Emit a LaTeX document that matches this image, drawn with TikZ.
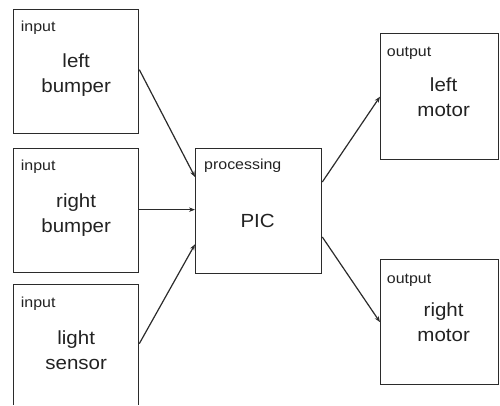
\documentclass[tikz,border=0pt]{standalone}
\usepackage{fontspec}
\setmainfont{Liberation Sans}
\newfontfamily\smallf{Liberation Sans}[FakeStretch=1.1]
\newfontfamily\bigf{Liberation Sans}[FakeStretch=1.08]
\usetikzlibrary{arrows.meta}
\definecolor{ln}{HTML}{2B2B2B}
\definecolor{tx}{HTML}{222222}
\begin{document}
\begin{tikzpicture}[x=1pt,y=-1pt,
  box/.style={draw=ln,line width=1.3pt,inner sep=0pt,anchor=north west},
  lab/.style={font=\smallf\fontsize{14.5}{17}\selectfont,text=tx,inner sep=0pt,anchor=base west},
  big/.style={font=\bigf\fontsize{19}{25}\selectfont,text=tx,inner sep=0pt,align=center,anchor=north},
  conn/.style={draw=ln,line width=1.2pt,-{Stealth[length=6pt,width=4.5pt]}}]
\useasboundingbox (0,0) rectangle (500,406);
\clip (0,0) rectangle (500,404.5);
% boxes
\node[box,minimum width=125pt,minimum height=124pt] (b1) at (13,9) {};
\node[box,minimum width=125pt,minimum height=124pt] (b2) at (13,148) {};
\node[box,minimum width=125pt,minimum height=124pt] (b3) at (13,284) {};
\node[box,minimum width=126pt,minimum height=125pt] (pic) at (195,148) {};
\node[box,minimum width=118pt,minimum height=126pt] (lm) at (380,33) {};
\node[box,minimum width=118pt,minimum height=125pt] (rm) at (380,259) {};
% small labels
\node[lab] (l1) at ([xshift=7.7pt,yshift=-23pt]b1.north west) {input};
\node[lab] (l2) at ([xshift=7.7pt,yshift=-23pt]b2.north west) {input};
\node[lab] (l3) at ([xshift=7.7pt,yshift=-23pt]b3.north west) {input};
\node[lab] (l4) at ([xshift=9pt,yshift=-21pt]pic.north west) {processing};
\node[lab] (l5) at ([xshift=6.7pt,yshift=-24pt]lm.north west) {output};
\node[lab] (l6) at ([xshift=6.7pt,yshift=-24pt]rm.north west) {output};
% main texts
\node[big] (t1) at ([yshift=-40.5pt]b1.north) {\strut left\\bumper};
\node[big] (t2) at ([yshift=-42pt]b2.north) {\strut right\\bumper};
\node[big] (t3) at ([yshift=-42.5pt]b3.north) {\strut light\\sensor};
\node[big,anchor=base] (t4) at ([xshift=-1pt,yshift=-79pt]pic.north) {PIC};
\node[big] (t5) at ([xshift=4pt,yshift=-40.5pt]lm.north) {\strut left\\motor};
\node[big] (t6) at ([xshift=4pt,yshift=-40pt]rm.north) {\strut right\\motor};
% connectors
\draw[conn] ([yshift=2pt]b1.east) -- ([yshift=-29pt]pic.north west);
\draw[conn] ([yshift=1pt]b2.east) -- ([yshift=1pt]b2.east -| pic.west);
\draw[conn] ([yshift=3pt]b3.east) -- ([yshift=30pt]pic.south west);
\draw[conn] ([yshift=-34pt]pic.north east) -- (lm.west);
\draw[conn] ([yshift=-89pt]pic.north east) -- (rm.west);
\end{tikzpicture}
\end{document}
